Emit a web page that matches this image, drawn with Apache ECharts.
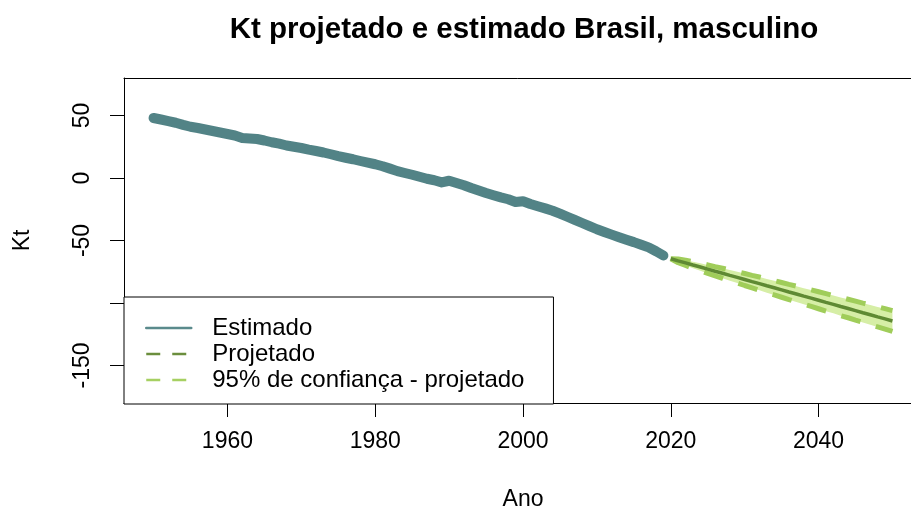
<!DOCTYPE html>
<html>
<head>
<meta charset="utf-8">
<script src="https://cdn.jsdelivr.net/npm/echarts@6/dist/echarts.min.js"></script>
<style>
  html, body { margin: 0; padding: 0; background: #fff; }
  #chart { width: 911px; height: 508px; }
</style>
</head>
<body>
<div id="chart"></div>
<script>
// Kt estimado (1950-2019)
const estYears = [];
for (let y = 1950; y <= 2019; y++) estYears.push(y);
const estValues = [
  48.0, 46.8, 45.5, 44.2, 42.5, 41.0, 40.0, 38.8, 37.6, 36.4,
  35.2, 34.0, 32.0, 31.6, 31.2, 30.0, 28.6, 27.5, 26.0, 25.0,
  24.0, 22.7, 21.6, 20.4, 19.0, 17.5, 16.2, 15.0, 13.6, 12.3,
  11.0, 9.4, 7.5, 5.5, 4.0, 2.6, 1.0, -0.6, -1.8, -3.5,
  -2.2, -4.0, -5.8, -8.0, -10.0, -12.0, -13.8, -15.5, -17.0, -19.2,
  -18.6, -20.8, -22.6, -24.3, -26.2, -28.5, -31.0, -33.5, -36.0, -38.5,
  -41.0, -43.2, -45.3, -47.4, -49.4, -51.3, -53.4, -55.5, -58.6, -62.0
];

// Kt projetado (2020-2050) e intervalo de 95%
const projYears = [];
for (let y = 2020; y <= 2050; y++) projYears.push(y);
const projValues = [
  -64.6, -66.3, -67.9, -69.6, -71.2, -72.9, -74.6, -76.2, -77.9, -79.5,
  -81.2, -82.9, -84.5, -86.2, -87.8, -89.5, -91.2, -92.8, -94.5, -96.1,
  -97.8, -99.5, -101.1, -102.8, -104.4, -106.1, -107.8, -109.4, -111.1, -112.7,
  -114.4
];
const upperValues = [
  -64.6, -64.8, -65.8, -67.0, -68.2, -69.5, -70.9, -72.2, -73.6, -75.0,
  -76.4, -77.9, -79.2, -80.7, -82.1, -83.6, -85.1, -86.5, -88.1, -89.5,
  -91.0, -92.5, -94.0, -95.5, -97.0, -98.5, -100.1, -101.5, -103.1, -104.5,
  -106.1
];
const lowerValues = [
  -64.6, -67.8, -70.0, -72.2, -74.2, -76.3, -78.3, -80.2, -82.2, -84.0,
  -86.0, -87.9, -89.8, -91.7, -93.5, -95.4, -97.3, -99.1, -100.9, -102.7,
  -104.6, -106.5, -108.2, -110.1, -111.8, -113.7, -115.5, -117.3, -119.1, -120.9,
  -122.7
];

const xTicks = [1960, 1980, 2000, 2020, 2040];
const yTicks = [50, 0, -50, -100, -150];
const yLabels = [50, 0, -50, -150];

const font = "'Liberation Sans', Arial, sans-serif";

const pairs = (xs, vs) => xs.map((x, i) => [x, vs[i]]);

const myChart = echarts.init(document.getElementById("chart"));
const option = {
  backgroundColor: "#fff",
  animation: false,
  title: {
    text: "Kt projetado e estimado Brasil, masculino",
    left: 519,
    top: 10,
    textAlign: "center",
    textStyle: { fontFamily: font, fontSize: 29.5, fontWeight: "bold", color: "#000" },
  },
  grid: {
    left: 124,
    top: 78,
    width: 798,
    height: 325,
    outerBoundsMode: "none",
    containLabel: false,
    show: false,
  },
  legend: {
    orient: "vertical",
    left: 124,
    top: 297,
    padding: [19, 29, 12, 21],
    itemWidth: 45,
    itemHeight: 14,
    itemGap: 2,
    backgroundColor: "#fff",
    borderColor: "#000",
    borderWidth: 1,
    borderRadius: 0,
    itemStyle: { opacity: 0 },
    textStyle: { fontFamily: font, fontSize: 24, color: "#000", padding: [0, 0, 0, 16] },
    data: [
      { name: "Estimado", lineStyle: { width: 2.5, type: "solid", color: "#5a8a8c" } },
      { name: "Projetado", lineStyle: { width: 2.5, type: [14, 12], color: "#6b8e3d" } },
      { name: "95% de confiança - projetado", lineStyle: { width: 2.5, type: [14, 12], color: "#a6d062" } },
    ],
  },
  xAxis: [
    {
      type: "value",
      min: 1946,
      max: 2054,
      name: "Ano",
      nameLocation: "middle",
      nameGap: 85,
      nameTextStyle: { fontFamily: font, fontSize: 23, color: "#000" },
      axisLine: { show: true, onZero: false, lineStyle: { color: "#000", width: 1 } },
      splitLine: { show: false },
      axisTick: { show: true, length: 14, customValues: xTicks, lineStyle: { color: "#000" } },
      axisLabel: {
        customValues: xTicks,
        margin: 27,
        fontFamily: font,
        fontSize: 23,
        color: "#000",
        formatter: (v) => String(v),
      },
    },
    {
      // linha superior da caixa
      type: "value",
      position: "top",
      min: 1946,
      max: 2054,
      axisLine: { show: true, onZero: false, lineStyle: { color: "#000", width: 1 } },
      axisTick: { show: false },
      axisLabel: { show: false },
      splitLine: { show: false },
    },
  ],
  yAxis: {
    type: "value",
    min: -180,
    max: 80,
    name: "Kt",
    nameLocation: "middle",
    nameRotate: 90,
    nameGap: 90,
    nameTextStyle: { fontFamily: font, fontSize: 23, color: "#000" },
    axisLine: { show: true, onZero: false, lineStyle: { color: "#000", width: 1 } },
    splitLine: { show: false },
    axisTick: { show: true, length: 14, customValues: yTicks, lineStyle: { color: "#000" } },
    axisLabel: { customValues: yLabels, rotate: 90, margin: 30, fontFamily: font, fontSize: 23, color: "#000" },
  },
  series: [
    {
      name: "Estimado",
      type: "line",
      symbol: "none",
      data: pairs(estYears, estValues),
      lineStyle: { color: "#528386", width: 10, cap: "round", join: "round" },
      itemStyle: { color: "#528386" },
      z: 2,
    },
    {
      // faixa do intervalo de 95%
      name: "faixa",
      type: "custom",
      silent: true,
      data: projYears.map((y, i) => [y, upperValues[i], lowerValues[i]]),
      encode: { x: 0, y: [1, 2] },
      renderItem: (params, api) => {
        if (params.dataIndex !== 0) return null;
        const pts = [];
        projYears.forEach((y, i) => pts.push(api.coord([y, upperValues[i]])));
        for (let i = projYears.length - 1; i >= 0; i--) {
          pts.push(api.coord([projYears[i], lowerValues[i]]));
        }
        return { type: "polygon", shape: { points: pts }, style: { fill: "#d6eea6" } };
      },
      z: 3,
    },
    {
      name: "95% de confiança - projetado",
      type: "line",
      symbol: "none",
      data: pairs(projYears, upperValues),
      lineStyle: { color: "#a0cd5a", width: 5, type: [20, 16] },
      itemStyle: { color: "#a0cd5a" },
      z: 4,
    },
    {
      name: "95% de confiança - projetado",
      type: "line",
      symbol: "none",
      data: pairs(projYears, lowerValues),
      lineStyle: { color: "#a0cd5a", width: 5, type: [20, 16] },
      itemStyle: { color: "#a0cd5a" },
      z: 4,
    },
    {
      name: "Projetado",
      type: "line",
      symbol: "none",
      data: pairs(projYears, projValues),
      lineStyle: { color: "#5f8a33", width: 3.5 },
      itemStyle: { color: "#5f8a33" },
      z: 5,
    },
  ],
};
myChart.setOption(option);
</script>
</body>
</html>
